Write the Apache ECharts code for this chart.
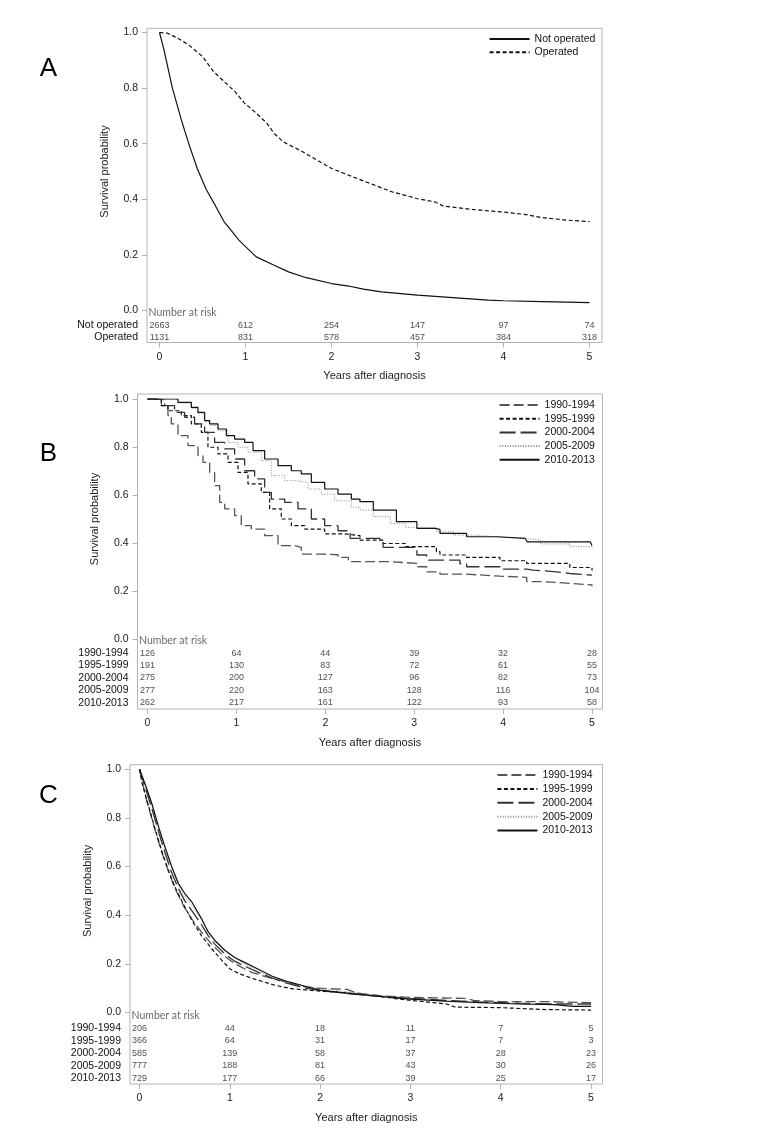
<!DOCTYPE html>
<html><head><meta charset="utf-8">
<script src="https://cdn.jsdelivr.net/npm/echarts@6/dist/echarts.min.js"></script>
<style>html,body{margin:0;padding:0;background:#fff}#c{width:782px;height:1130px}</style>
</head><body><div id="c"></div>
<script>
// ---------- data ----------
const timeTicks = [0, 1, 2, 3, 4, 5];
const xTitle = 'Years after diagnosis';
const yTitle = 'Survival probability';
const riskHeader = 'Number at risk';

// Panel A
const groupsA = ['Not operated', 'Operated'];
const notOperatedA = [[0,1],[0.05,0.94],[0.1,0.87],[0.15,0.8],[0.2,0.745],[0.25,0.69],[0.3,0.64],[0.357,0.585],[0.44,0.51],[0.544,0.435],[0.648,0.378],[0.75,0.32],[0.835,0.287],[0.918,0.255],[1.0,0.23],[1.125,0.193],[1.333,0.163],[1.5,0.139],[1.707,0.118],[2.0,0.097],[2.2,0.088],[2.37,0.077],[2.58,0.067],[3.0,0.055],[3.41,0.046],[3.82,0.037],[4.0,0.035],[4.45,0.032],[4.74,0.03],[5.0,0.028]];
const operatedA = [[0,1],[0.087,0.998],[0.21,0.98],[0.336,0.956],[0.5,0.914],[0.627,0.86],[0.75,0.824],[0.876,0.788],[0.988,0.746],[1.125,0.71],[1.25,0.673],[1.333,0.637],[1.437,0.607],[1.665,0.571],[1.83,0.541],[2.0,0.511],[2.246,0.481],[2.5,0.451],[2.7,0.427],[2.91,0.41],[3.0,0.402],[3.2,0.391],[3.3,0.376],[3.62,0.364],[4.0,0.354],[4.24,0.346],[4.45,0.334],[4.74,0.325],[5.0,0.32]];
const riskNotOperatedA = [2663, 612, 254, 147, 97, 74];
const riskOperatedA = [1131, 831, 578, 457, 384, 318];

// Panels B and C share the period groups
const periods = ['1990-1994', '1995-1999', '2000-2004', '2005-2009', '2010-2013'];

// Panel B
const b1990 = [[0,1],[0.043,1.0],[0.156,0.972],[0.23,0.931],[0.268,0.896],[0.343,0.847],[0.456,0.806],[0.568,0.764],[0.624,0.736],[0.699,0.694],[0.755,0.639],[0.812,0.569],[0.868,0.542],[0.98,0.514],[1.055,0.472],[1.168,0.458],[1.318,0.431],[1.468,0.389],[1.655,0.382],[1.73,0.354],[1.955,0.351],[2.143,0.34],[2.26,0.322],[2.73,0.315],[3.03,0.301],[3.14,0.28],[3.29,0.27],[3.59,0.262],[3.965,0.257],[4.265,0.239],[4.45,0.232],[4.75,0.225],[5.0,0.22]];
const b1995 = [[0,1],[0.118,0.997],[0.156,0.972],[0.23,0.951],[0.38,0.931],[0.493,0.896],[0.605,0.861],[0.68,0.799],[0.793,0.771],[0.906,0.736],[1.018,0.694],[1.13,0.646],[1.28,0.611],[1.374,0.542],[1.505,0.5],[1.618,0.472],[1.768,0.458],[1.993,0.438],[2.218,0.431],[2.39,0.412],[2.65,0.398],[2.9,0.385],[3.25,0.364],[3.29,0.35],[3.59,0.34],[3.965,0.326],[4.265,0.315],[4.75,0.298],[5.0,0.285]];
const b2000 = [[0,1],[0.08,0.997],[0.193,0.972],[0.305,0.944],[0.418,0.924],[0.53,0.896],[0.643,0.861],[0.755,0.819],[0.868,0.792],[0.98,0.75],[1.093,0.701],[1.205,0.667],[1.318,0.611],[1.393,0.583],[1.543,0.569],[1.693,0.542],[1.843,0.5],[1.993,0.472],[2.143,0.451],[2.28,0.419],[2.615,0.405],[2.65,0.382],[3.03,0.35],[3.14,0.329],[3.515,0.313],[3.59,0.301],[3.965,0.291],[4.265,0.287],[4.34,0.28],[4.6,0.273],[4.75,0.266],[5.0,0.264]];
const b2005 = [[0,1],[0.25,1.0],[0.343,0.983],[0.493,0.96],[0.568,0.94],[0.643,0.905],[0.699,0.89],[0.793,0.868],[0.906,0.819],[1.018,0.799],[1.13,0.778],[1.28,0.743],[1.393,0.681],[1.543,0.66],[1.655,0.653],[1.805,0.625],[1.955,0.604],[2.105,0.576],[2.293,0.549],[2.39,0.537],[2.54,0.51],[2.73,0.482],[2.9,0.465],[3.25,0.447],[3.44,0.433],[3.66,0.426],[3.93,0.419],[4.27,0.412],[4.42,0.396],[4.75,0.385],[5.0,0.375]];
const b2010 = [[0,1],[0.268,1.0],[0.343,0.986],[0.493,0.965],[0.568,0.944],[0.643,0.91],[0.699,0.896],[0.793,0.875],[0.887,0.847],[0.98,0.833],[1.093,0.819],[1.187,0.785],[1.318,0.75],[1.468,0.722],[1.618,0.701],[1.73,0.688],[1.843,0.653],[1.993,0.625],[2.143,0.604],[2.293,0.583],[2.39,0.572],[2.54,0.537],[2.8,0.489],[3.03,0.461],[3.23,0.457],[3.29,0.44],[3.59,0.426],[3.93,0.419],[4.25,0.412],[4.27,0.405],[4.98,0.405],[5.0,0.39]];
const riskB1990 = [126, 64, 44, 39, 32, 28];
const riskB1995 = [191, 130, 83, 72, 61, 55];
const riskB2000 = [275, 200, 127, 96, 82, 73];
const riskB2005 = [277, 220, 163, 128, 116, 104];
const riskB2010 = [262, 217, 161, 122, 93, 58];

// Panel C
const c1990 = [[0,1],[0.03,0.95],[0.08,0.87],[0.172,0.75],[0.245,0.66],[0.32,0.58],[0.393,0.51],[0.5,0.43],[0.578,0.385],[0.688,0.33],[0.8,0.28],[0.91,0.24],[1.058,0.2],[1.242,0.165],[1.464,0.14],[1.685,0.12],[1.833,0.105],[1.95,0.1],[2.3,0.095],[2.4,0.08],[2.7,0.068],[3.0,0.062],[3.6,0.058],[3.7,0.05],[4.0,0.045],[4.5,0.045],[5.0,0.04]];
const c1995 = [[0,1],[0.03,0.94],[0.08,0.875],[0.172,0.755],[0.245,0.665],[0.32,0.585],[0.393,0.515],[0.5,0.435],[0.578,0.38],[0.688,0.315],[0.8,0.262],[0.91,0.215],[1.0,0.18],[1.1,0.16],[1.25,0.14],[1.5,0.112],[1.7,0.097],[2.0,0.088],[2.3,0.08],[2.6,0.068],[3.0,0.05],[3.4,0.035],[3.5,0.022],[4.0,0.02],[4.5,0.012],[5.0,0.01]];
const c2000 = [[0,1],[0.06,0.93],[0.135,0.84],[0.21,0.745],[0.28,0.66],[0.356,0.575],[0.43,0.51],[0.5,0.46],[0.578,0.42],[0.688,0.36],[0.762,0.315],[0.836,0.28],[0.947,0.24],[1.058,0.21],[1.168,0.19],[1.316,0.165],[1.464,0.142],[1.611,0.123],[1.833,0.1],[2.0,0.09],[2.3,0.078],[2.6,0.068],[3.0,0.058],[3.4,0.05],[3.8,0.043],[4.2,0.038],[4.6,0.035],[5.0,0.035]];
const c2005 = [[0,1],[0.06,0.945],[0.135,0.865],[0.21,0.77],[0.28,0.685],[0.356,0.6],[0.43,0.525],[0.5,0.48],[0.578,0.44],[0.688,0.38],[0.762,0.335],[0.836,0.3],[0.947,0.258],[1.058,0.225],[1.168,0.198],[1.316,0.17],[1.464,0.145],[1.611,0.127],[1.833,0.11],[2.0,0.1],[2.3,0.085],[2.6,0.072],[3.0,0.056],[3.4,0.045],[3.8,0.038],[4.2,0.035],[4.6,0.033],[5.0,0.03]];
const c2010 = [[0,1],[0.06,0.94],[0.135,0.86],[0.21,0.764],[0.28,0.682],[0.356,0.6],[0.43,0.531],[0.5,0.49],[0.578,0.455],[0.688,0.385],[0.762,0.33],[0.836,0.295],[0.947,0.255],[1.058,0.225],[1.168,0.205],[1.316,0.178],[1.464,0.15],[1.611,0.13],[1.833,0.108],[2.0,0.092],[2.3,0.08],[2.6,0.068],[3.0,0.055],[3.4,0.047],[3.8,0.04],[4.2,0.035],[4.6,0.032],[4.8,0.025],[5.0,0.025]];
const riskC1990 = [206, 44, 18, 11, 7, 5];
const riskC1995 = [366, 64, 31, 17, 7, 3];
const riskC2000 = [585, 139, 58, 37, 28, 23];
const riskC2005 = [777, 188, 81, 43, 30, 26];
const riskC2010 = [729, 177, 66, 39, 25, 17];

// ---------- styles / layout ----------
const FONT = "'Liberation Sans', Arial, sans-serif";
const solid = { color: '#111', width: 1.2, type: 'solid' };
const shortDash = { color: '#111', width: 1.2, type: [4, 2.5] };
const medDash = { color: '#555', width: 1.3, type: [10, 4] };
const longDash = { color: '#333', width: 1.3, type: [16, 5] };
const dotted = { color: '#8a8a8a', width: 1, type: [1, 1.6] };

const panels = [
  { letter: 'A', letterY: 68.5, frameL: 147, frameR: 602, frameT: 28.3, frameB: 342.5, y1: 32.5, y0: 310.5, x0: 159.5, x5: 589.5,
    headerY: 312.8, rowGap: 12.25, legendL: 488.6, legendT: 33, legendGap: 1.3, step: false,
    groups: groupsA, curves: [notOperatedA, operatedA], styles: [solid, shortDash], risks: [riskNotOperatedA, riskOperatedA] },
  { letter: 'B', letterY: 454, frameL: 137.5, frameR: 602.5, frameT: 394, frameB: 709, y1: 399, y0: 639, x0: 147.5, x5: 592,
    headerY: 640.7, rowGap: 12.4, legendL: 498.6, legendT: 399, legendGap: 1.7, step: 'end',
    groups: periods, curves: [b1990, b1995, b2000, b2005, b2010], styles: [medDash, shortDash, longDash, dotted, solid],
    risks: [riskB1990, riskB1995, riskB2000, riskB2005, riskB2010] },
  { letter: 'C', letterY: 796, frameL: 130, frameR: 602.5, frameT: 764.7, frameB: 1084, y1: 769.2, y0: 1012.5, x0: 139.5, x5: 591,
    headerY: 1016, rowGap: 12.46, legendL: 496.4, legendT: 769, legendGap: 1.9, step: false,
    groups: periods, curves: [c1990, c1995, c2000, c2005, c2010], styles: [medDash, shortDash, longDash, dotted, solid],
    risks: [riskC1990, riskC1995, riskC2000, riskC2005, riskC2010] }
];

const option = { animation: false, textStyle: { fontFamily: FONT }, grid: [], xAxis: [], yAxis: [], series: [], legend: [], graphic: [] };
const frameColor = '#b3b3b3';
const textColor = '#222';

panels.forEach((p) => {
  const ppy = (p.x5 - p.x0) / 5;
  const xMin = -(p.x0 - p.frameL) / ppy;
  const xMax = 5 + (p.frameR - p.x5) / ppy;
  const w = p.frameR - p.frameL;
  const gF = option.grid.length;
  // frame grid
  option.grid.push({ left: p.frameL, top: p.frameT, width: w, height: p.frameB - p.frameT, show: true,
    borderColor: frameColor, borderWidth: 1, backgroundColor: 'transparent', containLabel: false });
  option.xAxis.push({ gridIndex: gF, type: 'value', min: xMin, max: xMax, position: 'bottom',
    axisLine: { show: false, onZero: false }, splitLine: { show: false },
    axisTick: { show: true, customValues: timeTicks, length: 5, lineStyle: { color: frameColor } },
    axisLabel: { customValues: timeTicks, margin: 9, fontSize: 10.5, color: textColor },
    name: xTitle, nameLocation: 'middle', nameGap: 28, nameTextStyle: { fontSize: 11, color: textColor } });
  option.yAxis.push({ gridIndex: gF, type: 'value', min: 0, max: 1, show: false });
  // plot grid
  const gP = option.grid.length;
  option.grid.push({ left: p.frameL, top: p.y1, width: w, height: p.y0 - p.y1 });
  option.xAxis.push({ gridIndex: gP, type: 'value', min: xMin, max: xMax, show: false, axisLine: { onZero: false } });
  option.yAxis.push({ gridIndex: gP, type: 'value', min: 0, max: 1, interval: 0.2, position: 'left',
    axisLine: { show: false, onZero: false }, splitLine: { show: false },
    axisTick: { show: true, length: 5, lineStyle: { color: frameColor } },
    axisLabel: { margin: 9, fontSize: 10.5, color: textColor, formatter: (v) => v.toFixed(1) },
    name: yTitle, nameLocation: 'middle', nameGap: 37, nameTextStyle: { fontSize: 11, color: textColor } });
  // table grid
  const gT = option.grid.length;
  const rows = [''].concat(p.groups);
  option.grid.push({ left: p.frameL, top: p.headerY - p.rowGap / 2, width: w, height: p.rowGap * rows.length });
  option.xAxis.push({ gridIndex: gT, type: 'value', min: xMin, max: xMax, show: false, axisLine: { onZero: false } });
  option.yAxis.push({ gridIndex: gT, type: 'category', data: rows, inverse: true, position: 'left',
    axisLine: { show: false, onZero: false }, axisTick: { show: false }, splitLine: { show: false },
    axisLabel: { interval: 0, margin: 9, fontSize: 10.5, color: '#111' } });

  // curves
  p.groups.forEach((g, i) => {
    const st = p.styles[i];
    option.series.push({ name: g, type: 'line', xAxisIndex: gP, yAxisIndex: gP, data: p.curves[i],
      step: p.step, symbol: 'none', showSymbol: false, color: st.color, z: 2 + i,
      lineStyle: { color: st.color, width: st.width, type: st.type }, silent: true });
  });
  // number at risk
  const cells = [];
  p.risks.forEach((arr, r) => arr.forEach((n, k) => cells.push([timeTicks[k], r + 1, n])));
  option.series.push({ name: 'risk' + p.letter, type: 'scatter', xAxisIndex: gT, yAxisIndex: gT, data: cells,
    symbolSize: 1, itemStyle: { color: 'rgba(0,0,0,0)' }, silent: true, clip: false,
    label: { show: true, position: 'inside', formatter: (q) => String(q.value[2]), fontSize: 9, color: '#222', fontFamily: 'Arial, Liberation Sans' } });
  option.series.push({ name: 'hdr' + p.letter, type: 'scatter', xAxisIndex: gT, yAxisIndex: gT, data: [[xMin, 0]],
    symbolSize: 1, itemStyle: { color: 'rgba(0,0,0,0)' }, silent: true, clip: false,
    label: { show: true, position: 'right', distance: 1, formatter: riskHeader, fontSize: 10.5, color: '#444', fontFamily: 'Lato, Open Sans, sans-serif' } });

  option.legend.push({ left: p.legendL, top: p.legendT, orient: 'vertical', padding: 0, itemWidth: 40, itemHeight: 12,
    itemGap: p.legendGap, selectedMode: false, data: p.groups.slice(),
    itemStyle: { color: 'rgba(0,0,0,0)', borderWidth: 0, opacity: 0 },
    textStyle: { fontSize: 10.5, color: '#111', lineHeight: 12, fontFamily: FONT } });

  option.graphic.push({ type: 'text', x: 48.5, y: p.letterY, silent: true,
    style: { text: p.letter, fontSize: 26, fontFamily: FONT, fill: '#000', align: 'center', verticalAlign: 'middle' } });
});

const chart = echarts.init(document.getElementById('c'), null, { renderer: 'canvas' });
chart.setOption(option);
</script></body></html>
